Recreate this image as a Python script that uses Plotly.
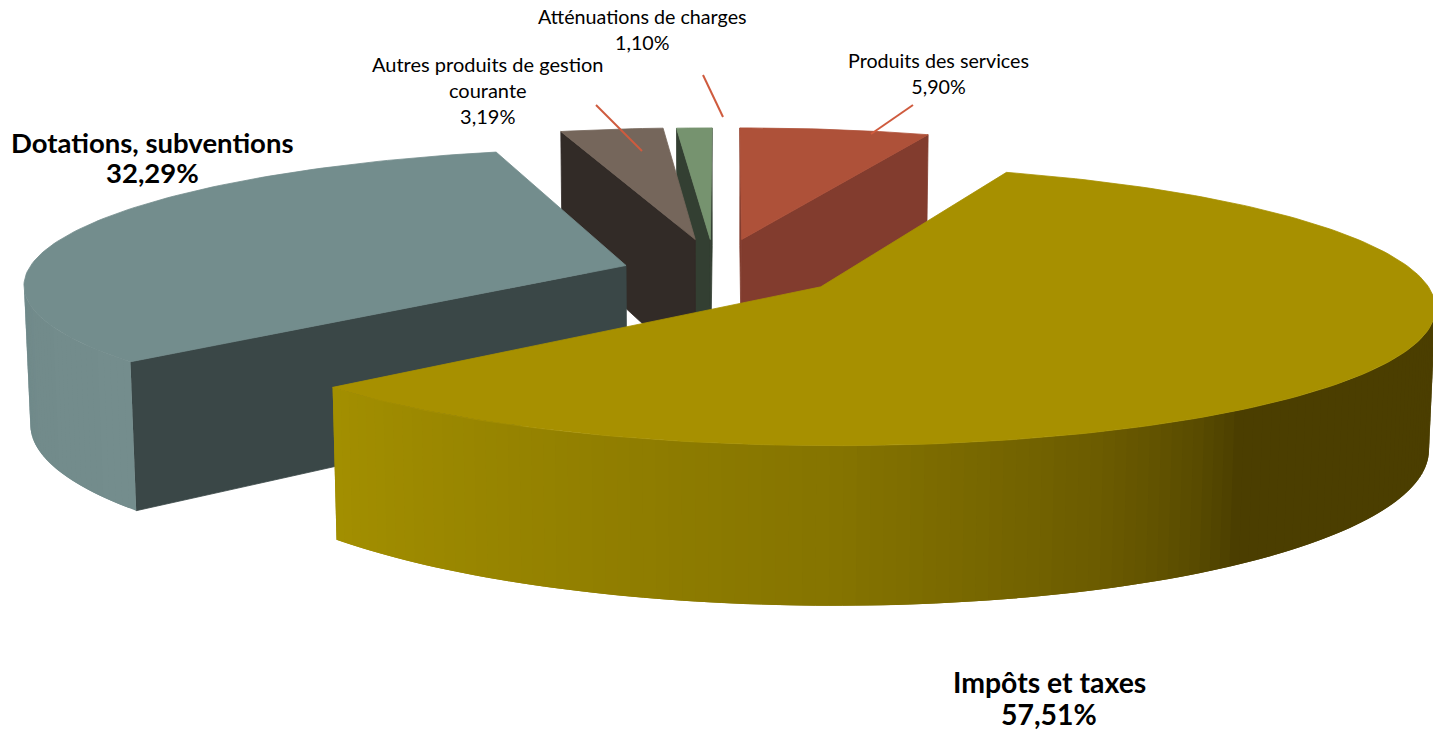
import math
import plotly.graph_objects as go

# ---- data
categories = ["Produits des services", "Impôts et taxes", "Dotations, subventions",
              "Autres produits de gestion<br>courante", "Atténuations de charges"]
values = [5.90, 57.51, 32.29, 3.19, 1.10]

# ---- styles and layout constants (not data)
top_colors = ["#AE5139", "#A79000", "#738D8D", "#75665B", "#76936F"]
face_colors = ["#823C2E", "#4B3E00", "#3A4747", "#322B27", "#333F32"]
offsets = [(0.027, 0.25), (0.156, -0.109), (-0.168, 0.049), (-0.053, 0.25), (-0.027, 0.25)]
draw_order = [4, 3, 0, 2, 1]
CX, CY, F, G, H, K, LEAN = 726, 272, 599, 134, 137, 0.13, 0.009
WALL_STOPS = {
    1: [(90, (75, 62, 0)), (143, (75, 62, 0)), (148, (90, 76, 0)), (157, (107, 91, 0)),
        (180, (133, 116, 0)), (232, (165, 145, 0))],
    2: [(228, (116, 141, 141)), (250, (114, 139, 139)), (270, (108, 134, 136)),
        (285, (104, 130, 132)), (345, (115, 141, 141))],
}
# bold labels: centre x, y of name line, y of value line, size
BOLD_LABELS = {1: (1049, 682, 714, 28.4), 2: (152, 142, 172, 27.5)}
# regular labels: centre x, centre y, size
LABELS = {0: (938, 73, 19.7), 3: (488, 90, 20), 4: (642, 29, 19.7)}
LEADERS = [(913, 105, 871, 134), (703, 75, 723, 117), (596, 105, 642, 151)]
LEADER_COLOR = "#CF5B3E"


def project(x, y, z=0.0):
    w = 1 + K * y
    return CX + F * x / (w + LEAN * abs(z)), CY - (G * y + H * z) / w


def direction(theta):
    t = math.radians(theta)
    return math.sin(t), math.cos(t)


def wall_color(idx, theta, default):
    stops = WALL_STOPS.get(idx)
    if not stops:
        return default
    if theta <= stops[0][0]:
        c = stops[0][1]
    elif theta >= stops[-1][0]:
        c = stops[-1][1]
    else:
        for (a, ca), (b, cb) in zip(stops, stops[1:]):
            if a <= theta <= b:
                f = (theta - a) / (b - a)
                c = tuple(ca[i] + (cb[i] - ca[i]) * f for i in range(3))
                break
    return "rgb(%d,%d,%d)" % tuple(round(v) for v in c)


def polygon(pts, color, edge=0.8):
    xs = [p[0] for p in pts] + [pts[0][0]]
    ys = [p[1] for p in pts] + [pts[0][1]]
    return go.Scatter(x=xs, y=ys, mode="lines", fill="toself", fillcolor=color,
                      line=dict(color=color, width=edge), hoverinfo="skip", showlegend=False)


def area(pts):
    return sum(pts[i][0] * pts[(i + 1) % len(pts)][1] - pts[(i + 1) % len(pts)][0] * pts[i][1]
               for i in range(len(pts)))


# ---- angles come from the values
total = sum(values)
starts, ang = [], 0.0
for v in values:
    starts.append(ang)
    ang += v / total * 360

fig = go.Figure()
for i in draw_order:
    a0 = starts[i]
    a1 = a0 + values[i] / total * 360
    ox, oy = offsets[i]
    n = max(2, int((a1 - a0) * 0.9))
    thetas = [a0 + (a1 - a0) * j / n for j in range(n + 1)]
    rim = [(ox + direction(t)[0], oy + direction(t)[1]) for t in thetas]

    # radial faces, culled when facing away
    for end, sgn in ((rim[0], 1), (rim[-1], -1)):
        q = [project(ox, oy), project(*end), project(*end, -1), project(ox, oy, -1)]
        if area(q) * sgn < 0:
            fig.add_trace(polygon(q, face_colors[i]))

    # outer wall, front part only; each strip runs under the next so no seams show
    for j in range(n):
        q = [project(*rim[j]), project(*rim[j + 1]), project(*rim[j + 1], -1), project(*rim[j], -1)]
        if area(q) < 0:
            k = min(j + 2, n)
            strip = [project(*rim[j]), project(*rim[k]), project(*rim[k], -1), project(*rim[j], -1)]
            fig.add_trace(polygon(strip, wall_color(i, (thetas[j] + thetas[j + 1]) / 2, face_colors[i]), edge=0))

    # top
    fig.add_trace(polygon([project(ox, oy)] + [project(*p) for p in rim], top_colors[i]))

for x0, y0, x1, y1 in LEADERS:
    fig.add_shape(type="line", x0=x0, y0=y0, x1=x1, y1=y1, xref="x", yref="y",
                  line=dict(color=LEADER_COLOR, width=2))


def pct(i):
    return f"{values[i]:.2f}".replace(".", ",") + "%"


def label(x, y, text, size):
    fig.add_annotation(x=x, y=y, xref="x", yref="y", text=text, showarrow=False,
                       align="center", xanchor="center", yanchor="middle",
                       font=dict(family="Lato", size=size, color="#000000"))


for i, (x, y, size) in LABELS.items():
    label(x, y, f"{categories[i]}<br>{pct(i)}", size)
for i, (x, y0, y1, size) in BOLD_LABELS.items():
    label(x, y0, f"<b>{categories[i]}</b>", size)
    label(x, y1, f"<b>{pct(i)}</b>", size)

fig.update_layout(
    width=1433, height=730, margin=dict(l=0, r=0, t=0, b=0),
    paper_bgcolor="white", plot_bgcolor="white", showlegend=False,
    xaxis=dict(range=[0, 1433], visible=False, fixedrange=True),
    yaxis=dict(range=[730, 0], visible=False, fixedrange=True),
)
fig.write_html("out.html", config={"displayModeBar": False},
               post_script="document.body.style.margin='0';document.body.style.overflow='hidden';")
